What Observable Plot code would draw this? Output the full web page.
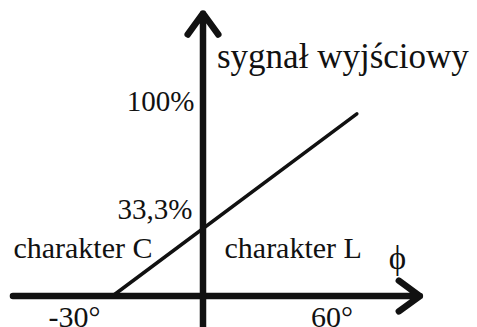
<!DOCTYPE html>
<html>
<head>
<meta charset="utf-8">
<script src="https://cdn.jsdelivr.net/npm/d3@7"></script>
<script src="https://cdn.jsdelivr.net/npm/@observablehq/plot@0.6"></script>
<style>
  html, body { margin: 0; padding: 0; background: #fff; }
  svg { display: block; }
</style>
</head>
<body>
<div id="chart"></div>
<script>
// Characteristic line: phase angle (degrees) vs output signal (%)
const phi = [-30, 51];
const signal = [0, 90];

// Axis extents (data units)
const xAxisSpan = [-63, 71.9];
const yAxisSpan = [-16, 139.6];

// Tick labels
const xTickValues = [-30, 60];
const xTickLabels = ["-30°", "60°"];
const yTickValues = [100, 33.3];
const yTickLabels = ["100%", "33,3%"];

// Text labels
const yTitle = "sygnał wyjściowy";
const xTitle = "ϕ";
const regionLabels = ["charakter C", "charakter L"];

const lineData = phi.map((p, i) => ({phi: p, signal: signal[i]}));
const serif = "Liberation Serif";
const ink = "#111";
const txt = {fontFamily: serif, fill: ink, lineAnchor: "bottom"};

const chart = Plot.plot({
  width: 477,
  height: 327,
  margin: 0,
  x: {domain: [-67.13, 91.0], axis: null},
  y: {domain: [-15.56, 146.0], axis: null},
  style: {fontFamily: serif, background: "#fff"},
  marks: [
    // characteristic line
    Plot.line(lineData, {x: "phi", y: "signal", stroke: ink, strokeWidth: 3.5}),
    // x axis with arrow
    Plot.arrow([0], {
      x1: xAxisSpan[0], x2: xAxisSpan[1], y1: 0, y2: 0,
      stroke: ink, strokeWidth: 6.5, headLength: 6, headAngle: 72
    }),
    // y axis with arrow
    Plot.arrow([0], {
      x1: 0, x2: 0, y1: yAxisSpan[0], y2: yAxisSpan[1],
      stroke: ink, strokeWidth: 6.5, headLength: 6, headAngle: 72
    }),
    // x tick labels
    Plot.text([xTickLabels[0]], {
      ...txt, x: xTickValues[0], y: 0, text: d => d,
      dx: -38, dy: 30.5, textAnchor: "middle", fontSize: 30
    }),
    Plot.text([xTickLabels[1]], {
      ...txt, x: xTickValues[1], y: 0, text: d => d,
      dx: -52, dy: 30.5, textAnchor: "middle", fontSize: 30
    }),
    // y tick labels
    Plot.text([yTickLabels[0]], {
      ...txt, x: 0, y: yTickValues[0], text: d => d,
      dx: -8.5, dy: 17, textAnchor: "end", fontSize: 29
    }),
    Plot.text([yTickLabels[1]], {
      ...txt, x: 0, y: yTickValues[1], text: d => d,
      dx: -10.5, dy: -10, textAnchor: "end", fontSize: 29
    }),
    // axis titles
    Plot.text([yTitle], {
      ...txt, x: 0, y: 100, text: d => d, dx: 14, dy: -26,
      textAnchor: "start", fontSize: 35
    }),
    Plot.text([xTitle], {
      ...txt, x: xAxisSpan[1], y: 0, text: d => d, dx: -22.5, dy: -27,
      textAnchor: "middle", fontSize: 33
    }),
    // region labels
    Plot.text([regionLabels[0]], {
      ...txt, x: 0, y: 0, text: d => d, dx: -50.5, dy: -38.5,
      textAnchor: "end", fontSize: 30
    }),
    Plot.text([regionLabels[1]], {
      ...txt, x: 0, y: 0, text: d => d, dx: 21.5, dy: -38.5,
      textAnchor: "start", fontSize: 30
    })
  ]
});
document.getElementById("chart").append(chart);
</script>
</body>
</html>
